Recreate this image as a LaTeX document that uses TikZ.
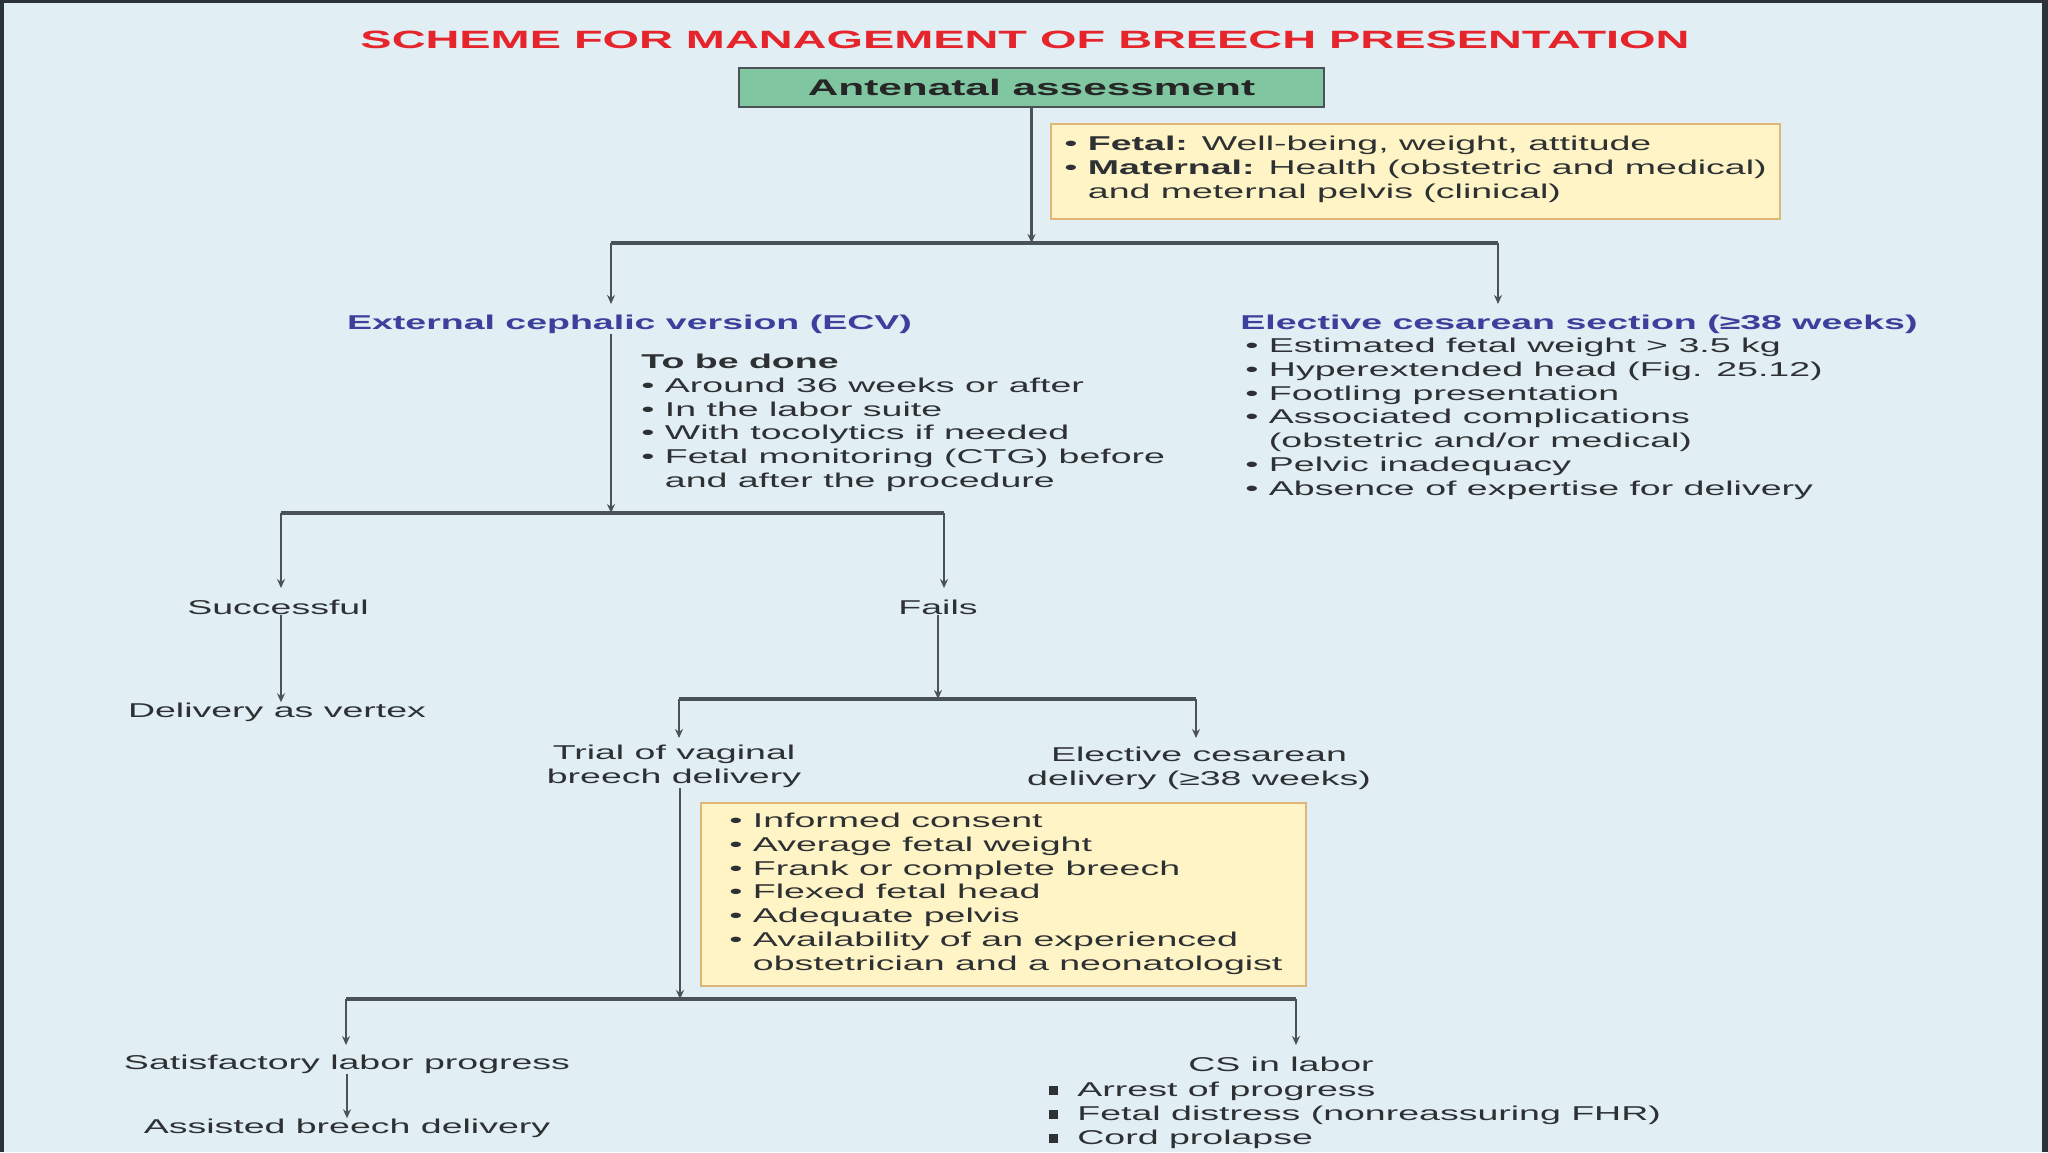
\documentclass[tikz,border=0pt]{standalone}
\usepackage{fontspec}
\setmainfont[FakeStretch=1.875]{Liberation Sans}
\usetikzlibrary{positioning, arrows.meta, calc}
\definecolor{bgblue}{HTML}{E1EEF4}
\definecolor{frameink}{HTML}{2B3339}
\definecolor{titlered}{HTML}{E5242B}
\definecolor{boxgreen}{HTML}{80C6A1}
\definecolor{notefill}{HTML}{FFF4C6}
\definecolor{noteedge}{HTML}{E0B578}
\definecolor{headblue}{HTML}{3D3F9C}
\definecolor{inkgray}{HTML}{2E3133}
\definecolor{linegray}{HTML}{4A5157}

\newcommand{\bulitem}{\textbullet\ }
\newcommand{\bulcont}{\phantom{\textbullet\ }}
\newcommand{\sqitem}{\rule[0.6pt]{4.5pt}{4.5pt}\hspace{9.5pt}}

\tikzset{
  body/.style={font=\fontsize{10}{11.9}\selectfont, text=inkgray, inner sep=0pt},
  blocktext/.style={body, align=left, anchor=north west},
  headtext/.style={font=\bfseries\fontsize{10}{11.9}\selectfont, text=headblue, inner sep=0pt},
  titletext/.style={font=\bfseries\fontsize{12.5}{15}\selectfont, text=titlered, inner sep=0pt},
  greenbox/.style={draw=linegray, fill=boxgreen, line width=1.3pt, inner sep=0pt,
    font=\bfseries\fontsize{11.3}{13}\selectfont, text=black!85},
  notebox/.style={draw=noteedge, fill=notefill, line width=1.1pt, inner sep=0pt},
  arrline/.style={draw=linegray, line width=1.1pt, -{Stealth[length=4.5pt,width=4pt]}},
  barline/.style={draw=linegray, line width=1.6pt}
}

\begin{document}
\begin{tikzpicture}[x=0.5pt, y=-0.5pt]
  % backdrop and frame
  \fill[frameink] (0,0) rectangle (2048,1152);
  \fill[bgblue] (4,3) rectangle (2042,1152);
  \useasboundingbox (0,0) rectangle (2048,1152);

  \node[titletext] (title) at (1025,40) {SCHEME FOR MANAGEMENT OF BREECH PRESENTATION};
  \node[greenbox, minimum width=292.5pt, minimum height=19.5pt] (ante) at (1031.5,87.5) {Antenatal assessment};

  \node[notebox, minimum width=364.5pt, minimum height=47.5pt] (fetbox) at (1415.5,171.5) {};
  \node[blocktext] (fetmat) at (1064,135.6) {\bulitem\textbf{Fetal:} Well-being, weight, attitude\\
    \bulitem\textbf{Maternal:} Health (obstetric and medical)\\
    \bulcont and meternal pelvis (clinical)};

  % first split
  \coordinate (j1) at (1032,243);
  \coordinate (ecvtip) at (611,304);
  \coordinate (ecstip) at (1498,304);
  \draw[arrline] (ante.south) -- (ante.south |- j1);
  \draw[barline] (ecvtip |- j1) -- (ecstip |- j1);
  \draw[arrline] (ecvtip |- j1) -- (ecvtip);
  \draw[arrline] (ecstip |- j1) -- (ecstip);

  \node[headtext] (ecv) at (629.5,324) {External cephalic version (ECV)};
  \node[blocktext] (ecvplan) at (641,353.6) {\textbf{To be done}\\
    \bulitem Around 36 weeks or after\\
    \bulitem In the labor suite\\
    \bulitem With tocolytics if needed\\
    \bulitem Fetal monitoring (CTG) before\\
    \bulcont and after the procedure};

  \node[headtext] (ecs) at (1579,324) {Elective cesarean section (≥38 weeks)};
  \node[blocktext] (ecsplan) at (1245,337.6) {\bulitem Estimated fetal weight > 3.5 kg\\
    \bulitem Hyperextended head (Fig. 25.12)\\
    \bulitem Footling presentation\\
    \bulitem Associated complications\\
    \bulcont(obstetric and/or medical)\\
    \bulitem Pelvic inadequacy\\
    \bulitem Absence of expertise for delivery};

  % ECV outcome
  \coordinate (j2) at (611,513);
  \coordinate (succtip) at (281,588);
  \coordinate (failtip) at (944,588);
  \draw[arrline] (ecv.south -| j2) -- (j2);
  \draw[barline] (succtip |- j2) -- (failtip |- j2);
  \draw[arrline] (succtip |- j2) -- (succtip);
  \draw[arrline] (failtip |- j2) -- (failtip);

  \node[body] (succ) at (278,607) {Successful};
  \node[body] (fails) at (938,607) {Fails};
  \node[body] (vertex) at (277,712) {Delivery as vertex};
  \draw[arrline] (succ.south -| succtip) -- (succtip |- vertex.north);

  % after failed ECV
  \coordinate (j3) at (938,699);
  \coordinate (trialtip) at (679,738);
  \coordinate (elcstip) at (1196,738);
  \draw[arrline] (fails.south) -- (j3);
  \draw[barline] (trialtip |- j3) -- (elcstip |- j3);
  \draw[arrline] (trialtip |- j3) -- (trialtip);
  \draw[arrline] (elcstip |- j3) -- (elcstip);

  \node[body, align=center] (trial) at (674,766.5) {Trial of vaginal\\breech delivery};
  \node[body, align=center] (elcs) at (1199,768) {Elective cesarean\\delivery (≥38 weeks)};

  \node[notebox, minimum width=302.5pt, minimum height=91.5pt] (critbox) at (1003.5,894.5) {};
  \node[blocktext] (crit) at (729,812.6) {\bulitem Informed consent\\
    \bulitem Average fetal weight\\
    \bulitem Frank or complete breech\\
    \bulitem Flexed fetal head\\
    \bulitem Adequate pelvis\\
    \bulitem Availability of an experienced\\
    \bulcont obstetrician and a neonatologist};

  % labor outcome
  \coordinate (j4) at (680,999);
  \coordinate (satistip) at (346,1045);
  \coordinate (csltip) at (1296,1045);
  \draw[arrline] (trial.south -| j4) -- (j4);
  \draw[barline] (satistip |- j4) -- (csltip |- j4);
  \draw[arrline] (satistip |- j4) -- (satistip);
  \draw[arrline] (csltip |- j4) -- (csltip);

  \node[body] (satis) at (347,1064) {Satisfactory labor progress};
  \node[body] (assist) at (347,1128) {Assisted breech delivery};
  \draw[arrline] (satis.south) -- (assist.north);

  \node[body] (csl) at (1281,1064) {CS in labor};
  \node[blocktext] (csreasons) at (1049,1081.6) {\sqitem Arrest of progress\\
    \sqitem Fetal distress (nonreassuring FHR)\\
    \sqitem Cord prolapse};
\end{tikzpicture}
\end{document}
